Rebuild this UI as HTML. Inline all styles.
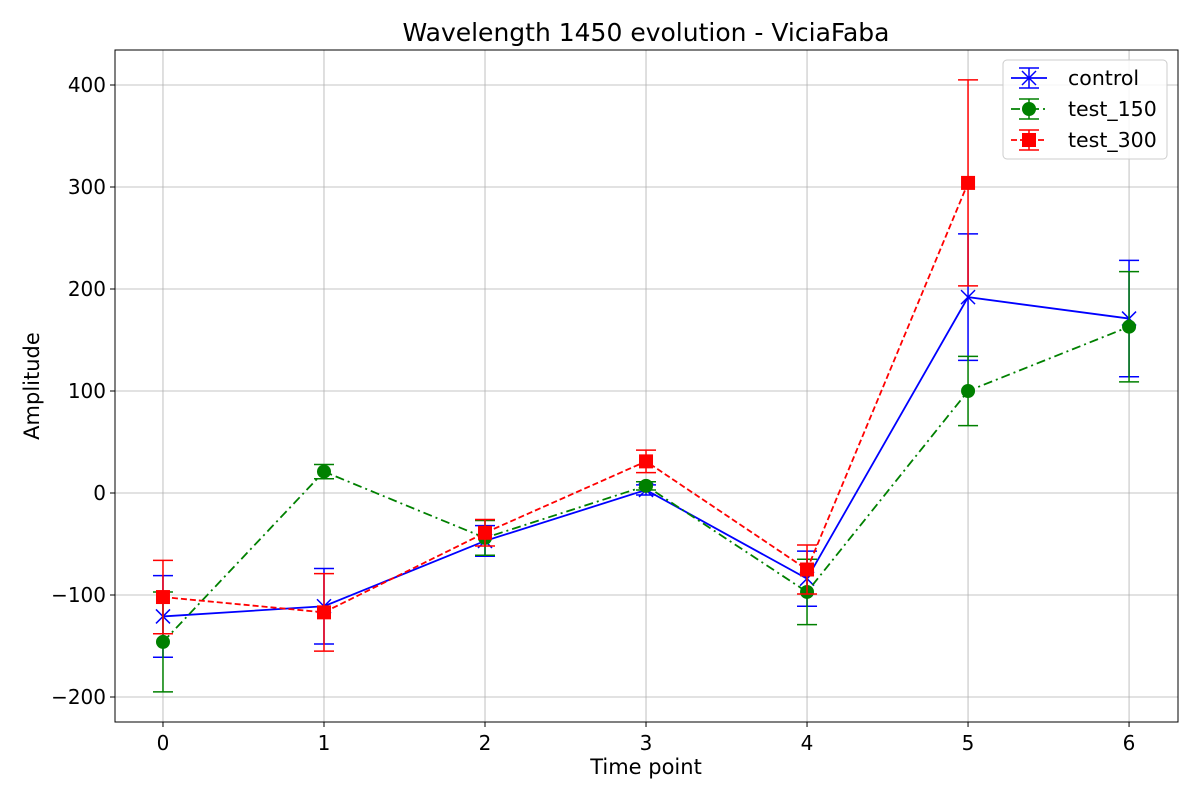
<!DOCTYPE html>
<html><head><meta charset="utf-8"><style>
html,body{margin:0;padding:0;background:#fff;}
svg{display:block;font-family:"DejaVu Sans","Liberation Sans",sans-serif;}
</style></head><body>
<svg id="chart" width="1200" height="800" viewBox="0 0 1200 800">
<rect width="1200" height="800" fill="#fff"/>
<g id="grid"></g>
<g id="series"></g>
<rect x="115" y="50" width="1063" height="672" fill="none" stroke="#000" stroke-width="1"/>
<g id="ticks"></g>
<text x="646" y="41" text-anchor="middle" font-size="25">Wavelength 1450 evolution - ViciaFaba</text>
<text x="646" y="774" text-anchor="middle" font-size="21">Time point</text>
<text x="0" y="0" transform="translate(39,386) rotate(-90)" text-anchor="middle" font-size="21">Amplitude</text>
<g id="legend"></g>
</svg>
<script>
const timePoints=[0,1,2,3,4,5,6];
const controlVals=[-121,-111,-47,3,-84,192,171];
const controlErr=[40,37,15,5,27,62,57];
const test150Vals=[-146,21,-44,7,-97,100,163];
const test150Err=[49,7,17,4,32,34,54];
const test300Vals=[-102,-117,-39,31,-75,304];
const test300Err=[36,38,13,11,24,101];
const yTicks=[-200,-100,0,100,200,300,400];
const yTickLabels=["\u2212200","\u2212100","0","100","200","300","400"];

const NS="http://www.w3.org/2000/svg";
const X0=115,X1=1178,Y0=50,Y1=722;
const xmin=-0.298,xmax=6.304,ymin=-224.5,ymax=434.3;
const xs=v=>X0+(v-xmin)/(xmax-xmin)*(X1-X0);
const ys=v=>Y1-(v-ymin)/(ymax-ymin)*(Y1-Y0);
function mk(tag,attrs,parent){const e=document.createElementNS(NS,tag);for(const k in attrs)e.setAttribute(k,attrs[k]);parent.appendChild(e);return e;}
const grid=document.getElementById('grid'),ticks=document.getElementById('ticks'),ser=document.getElementById('series'),leg=document.getElementById('legend');

timePoints.forEach(t=>{
  const x=xs(t);
  const g=mk('line',{x1:x,x2:x,y1:Y0,y2:Y1,stroke:'#b0b0b0','stroke-width':0.8},grid);
  
  
  const tk=mk('line',{x1:x,x2:x,y1:Y1,y2:Y1+5,stroke:'#000'},ticks);
  
  
  const tl=mk('text',{x:x,y:Y1+28,'text-anchor':'middle','font-size':20},ticks);
  tl.textContent=t;
  
  
});
yTicks.forEach((v,i)=>{
  const y=ys(v);
  const g=mk('line',{x1:X0,x2:X1,y1:y,y2:y,stroke:'#b0b0b0','stroke-width':0.8},grid);
  
  
  const tk=mk('line',{x1:X0-5,x2:X0,y1:y,y2:y,stroke:'#000'},ticks);
  
  
  const tl=mk('text',{x:X0-9,y:y+7,'text-anchor':'end','font-size':20},ticks);
  tl.textContent=yTickLabels[i];
  
  
});

function marker(p,x,y,kind,color){
  let m;
  if(kind==='x'){
    m=mk('path',{d:`M${x-7},${y-7}L${x+7},${y+7}M${x-7},${y+7}L${x+7},${y-7}`,stroke:color,'stroke-width':1.5,fill:'none'},p);
  }else if(kind==='o'){
    m=mk('circle',{cx:x,cy:y,r:7,fill:color},p);
  }else{
    m=mk('rect',{x:x-7,y:y-7,width:14,height:14,fill:color},p);
  }
  return m;
}
function drawSeries(name,vals,errs,color,dash,kind){
  const g=mk('g',{},ser);
  
  
  vals.forEach((v,i)=>{
    const x=xs(timePoints[i]),yt=ys(v+errs[i]),yb=ys(v-errs[i]);
    const e=mk('path',{d:`M${x},${yt}L${x},${yb}M${x-10},${yt}L${x+10},${yt}M${x-10},${yb}L${x+10},${yb}`,stroke:color,'stroke-width':1.5,fill:'none'},g);
    
    
  });
  const pts=vals.map((v,i)=>xs(timePoints[i])+','+ys(v)).join(' ');
  const l=mk('polyline',{points:pts,fill:'none',stroke:color,'stroke-width':1.8,'stroke-dasharray':dash},g);
  
  
  vals.forEach((v,i)=>{
    const m=marker(g,xs(timePoints[i]),ys(v),kind,color);
    
    
  });
}
drawSeries('control',controlVals,controlErr,'#0000ff','none','x');
drawSeries('test_150',test150Vals,test150Err,'#008000','9,4,2,4','o');
drawSeries('test_300',test300Vals,test300Err,'#ff0000','6,3','s');

const box=mk('rect',{x:1003,y:60,width:164,height:99,rx:4,fill:'#fff','fill-opacity':0.85,stroke:'#ccc'},leg);


const entries=[['control','#0000ff','none','x'],['test_150','#008000','9,4,2,4','o'],['test_300','#ff0000','6,3','s']];
entries.forEach((en,i)=>{
  const y=78+i*31;
  const g=mk('g',{},leg);
  
  
  mk('line',{x1:1011,x2:1047,y1:y,y2:y,stroke:en[1],'stroke-width':1.8,'stroke-dasharray':en[2]},g);
  mk('path',{d:`M1029,${y-10}L1029,${y+10}M1019,${y-10}L1039,${y-10}M1019,${y+10}L1039,${y+10}`,stroke:en[1],'stroke-width':1.5},g);
  marker(g,1029,y,en[3],en[1]);
  const t=mk('text',{x:1068,y:y+7,'font-size':20.5},g);
  t.textContent=en[0];
});
</script>
</body></html>
